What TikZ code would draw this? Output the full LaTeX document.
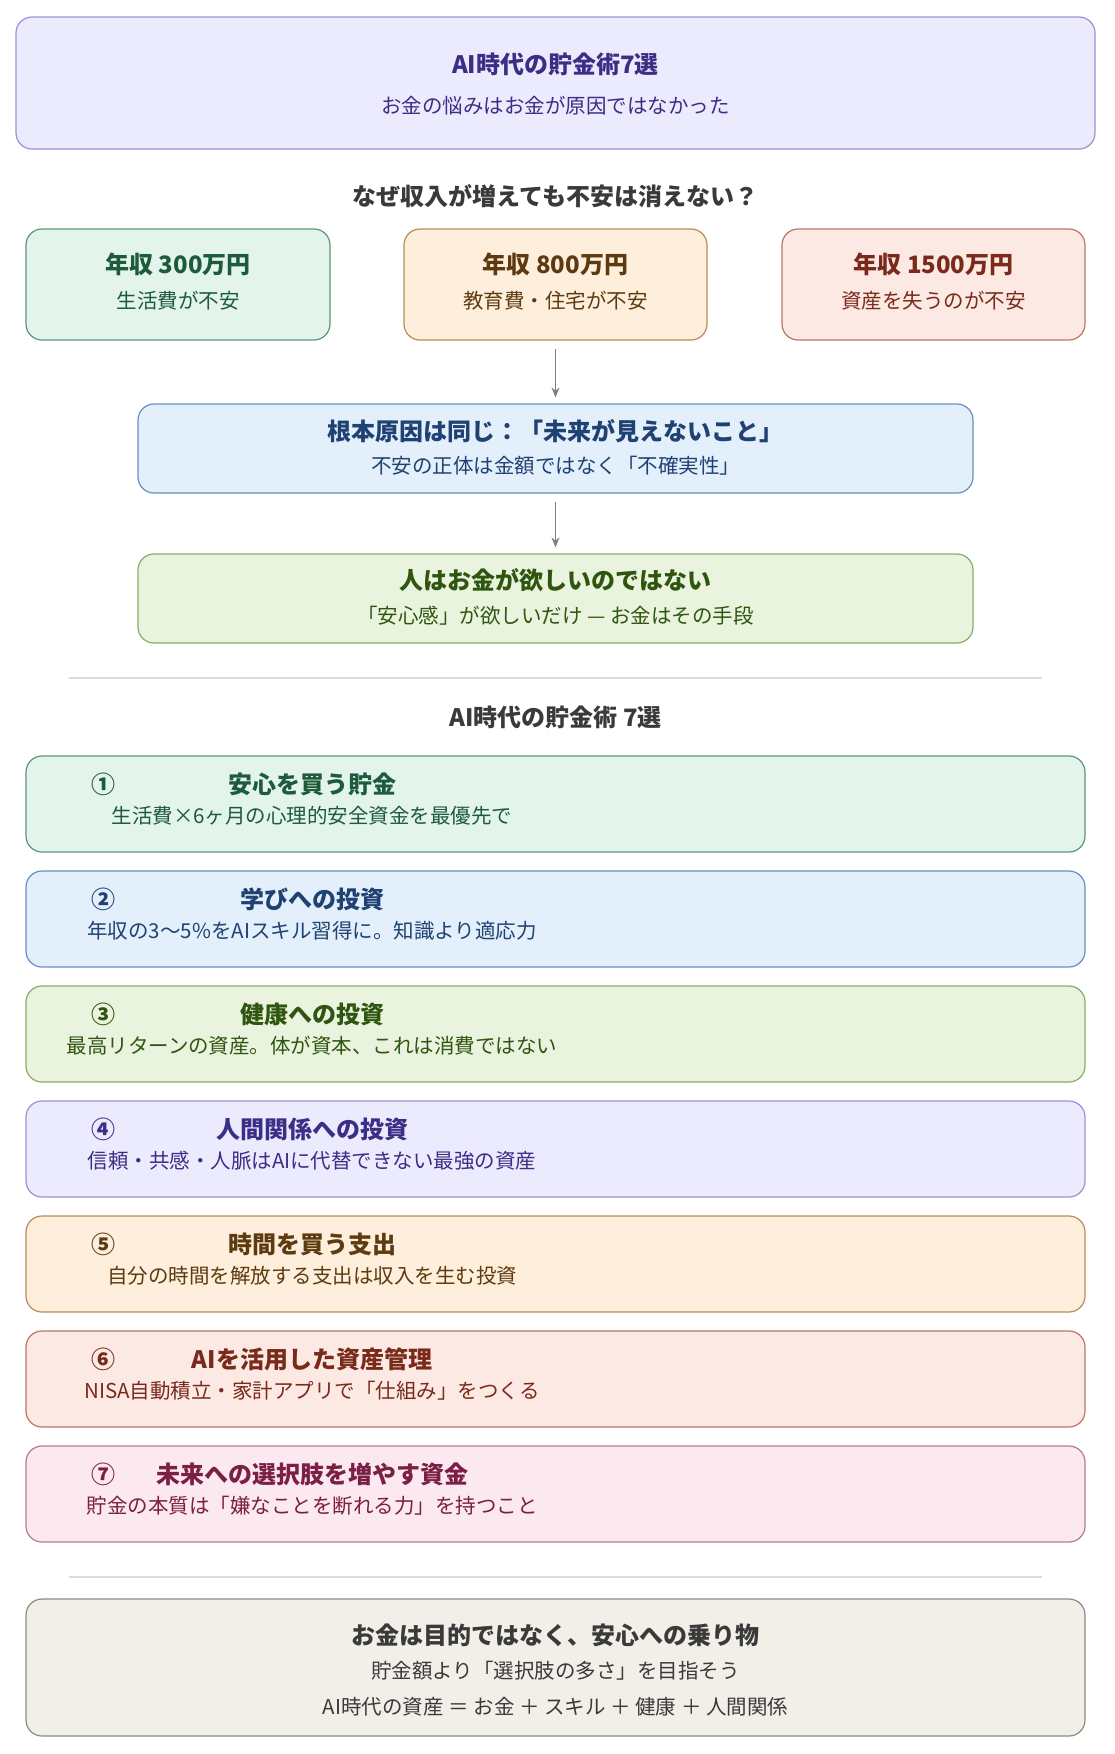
\documentclass[tikz,border=0pt]{standalone}
\usepackage{fontspec}
\setmainfont{Noto Sans CJK JP}
\usetikzlibrary{arrows.meta}
% colour themes: F fill, L line, T text
\definecolor{lavF}{HTML}{ECEAFD}\definecolor{lavL}{HTML}{9A92D6}\definecolor{lavT}{HTML}{3B2E86}
\definecolor{mintF}{HTML}{E2F4EC}\definecolor{mintL}{HTML}{5A9878}\definecolor{mintT}{HTML}{1E5A3C}
\definecolor{peachF}{HTML}{FDEFDC}\definecolor{peachL}{HTML}{B98C58}\definecolor{peachT}{HTML}{5E3A10}
\definecolor{salmF}{HTML}{FCE9E4}\definecolor{salmL}{HTML}{BD7566}\definecolor{salmT}{HTML}{7A2A1A}
\definecolor{blueF}{HTML}{E3EFFB}\definecolor{blueL}{HTML}{6690C4}\definecolor{blueT}{HTML}{1F4272}
\definecolor{greenF}{HTML}{EAF3DE}\definecolor{greenL}{HTML}{88AE66}\definecolor{greenT}{HTML}{2F5610}
\definecolor{pinkF}{HTML}{FCE8EF}\definecolor{pinkL}{HTML}{B77A92}\definecolor{pinkT}{HTML}{7B1F45}
\definecolor{stoneF}{HTML}{F1EFE8}\definecolor{stoneL}{HTML}{8C8C84}\definecolor{stoneT}{HTML}{3A3A3A}
\definecolor{rulegray}{HTML}{DCDCD4}
\definecolor{arrowgray}{HTML}{808080}

\begin{document}
\begin{tikzpicture}[x=1pt,y=-1pt,
  card/.style={draw,rounded corners=16pt,line width=1.2pt,inner sep=0pt},
  ttl/.style={font=\fontsize{24}{28}\selectfont\bfseries},
  sub/.style={font=\fontsize{20.5}{24}\selectfont},
  flow/.style={draw=arrowgray,line width=1.5pt,-{Stealth[length=10pt,width=8pt]},shorten <=8pt,shorten >=6pt}]
\useasboundingbox[fill=white] (0,0) rectangle (1114,1754);

% header
\node[card,fill=lavF,draw=lavL,minimum width=1079pt,minimum height=132pt] (head) at (555.5,83) {};
\node[ttl,text=lavT] (head-t) at (555.5,64) {AI時代の貯金術7選};
\node[sub,text=lavT] (head-s) at (555.5,106) {お金の悩みはお金が原因ではなかった};

\node[ttl,text=stoneT] (why) at (555.5,196) {なぜ収入が増えても不安は消えない？};

% three incomes
\node[card,fill=mintF,draw=mintL,minimum width=304pt,minimum height=111pt] (inc1) at (178,284.5) {};
\node[ttl,text=mintT] (inc1-t) at (178,264) {年収 300万円};
\node[sub,text=mintT] (inc1-s) at (178,301) {生活費が不安};
\node[card,fill=peachF,draw=peachL,minimum width=303pt,minimum height=111pt] (inc2) at (555.5,284.5) {};
\node[ttl,text=peachT] (inc2-t) at (555.5,264) {年収 800万円};
\node[sub,text=peachT] (inc2-s) at (555.5,301) {教育費・住宅が不安};
\node[card,fill=salmF,draw=salmL,minimum width=303pt,minimum height=111pt] (inc3) at (933.5,284.5) {};
\node[ttl,text=salmT] (inc3-t) at (933.5,264) {年収 1500万円};
\node[sub,text=salmT] (inc3-s) at (933.5,301) {資産を失うのが不安};

% root cause and insight
\node[card,fill=blueF,draw=blueL,minimum width=835pt,minimum height=89pt] (root) at (555.5,448.5) {};
\node[ttl,text=blueT] (root-t) at (555.5,431) {根本原因は同じ：「未来が見えないこと」};
\node[sub,text=blueT] (root-s) at (555.5,466) {不安の正体は金額ではなく「不確実性」};
\node[card,fill=greenF,draw=greenL,minimum width=835pt,minimum height=89pt] (want) at (555.5,598.5) {};
\node[ttl,text=greenT] (want-t) at (555.5,580) {人はお金が欲しいのではない};
\node[sub,text=greenT] (want-s) at (555.5,616) {「安心感」が欲しいだけ — お金はその手段};

\draw[flow] (inc2) -- (root);
\draw[flow] (root) -- (want);

\draw[rulegray,line width=1.5pt] (69,678) -- (1042,678);
\node[ttl,text=stoneT] (list) at (555.5,717) {AI時代の貯金術 7選};

% the seven items
\foreach \i/\num/\col/\ttltext/\subtext in {
  0/①/mint/安心を買う貯金/生活費×6ヶ月の心理的安全資金を最優先で,
  1/②/blue/学びへの投資/年収の3〜5\%をAIスキル習得に。知識より適応力,
  2/③/green/健康への投資/最高リターンの資産。体が資本、これは消費ではない,
  3/④/lav/人間関係への投資/信頼・共感・人脈はAIに代替できない最強の資産,
  4/⑤/peach/時間を買う支出/自分の時間を解放する支出は収入を生む投資,
  5/⑥/salm/AIを活用した資産管理/NISA自動積立・家計アプリで「仕組み」をつくる,
  6/⑦/pink/未来への選択肢を増やす資金/貯金の本質は「嫌なことを断れる力」を持つこと}{
  \pgfmathsetmacro{\top}{756+115*\i}
  \node[card,fill=\col F,draw=\col L,minimum width=1059pt,minimum height=96pt] (item\i) at (555.5,\top+48) {};
  \node[ttl,text=\col T] (item\i-n) at (103,\top+28) {\num};
  \node[ttl,text=\col T] (item\i-t) at (312,\top+28) {\ttltext};
  \node[sub,text=\col T] (item\i-s) at (312,\top+60) {\subtext};
}

\draw[rulegray,line width=1.5pt] (69,1577) -- (1042,1577);

% closing
\node[card,fill=stoneF,draw=stoneL,minimum width=1059pt,minimum height=137pt] (end) at (555.5,1667.5) {};
\node[ttl,text=stoneT] (end-t) at (555.5,1635) {お金は目的ではなく、安心への乗り物};
\node[sub,text=stoneT] (end-s1) at (555.5,1671) {貯金額より「選択肢の多さ」を目指そう};
\node[sub,text=stoneT] (end-s2) at (555.5,1707) {AI時代の資産 ＝ お金 ＋ スキル ＋ 健康 ＋ 人間関係};
\end{tikzpicture}
\end{document}
